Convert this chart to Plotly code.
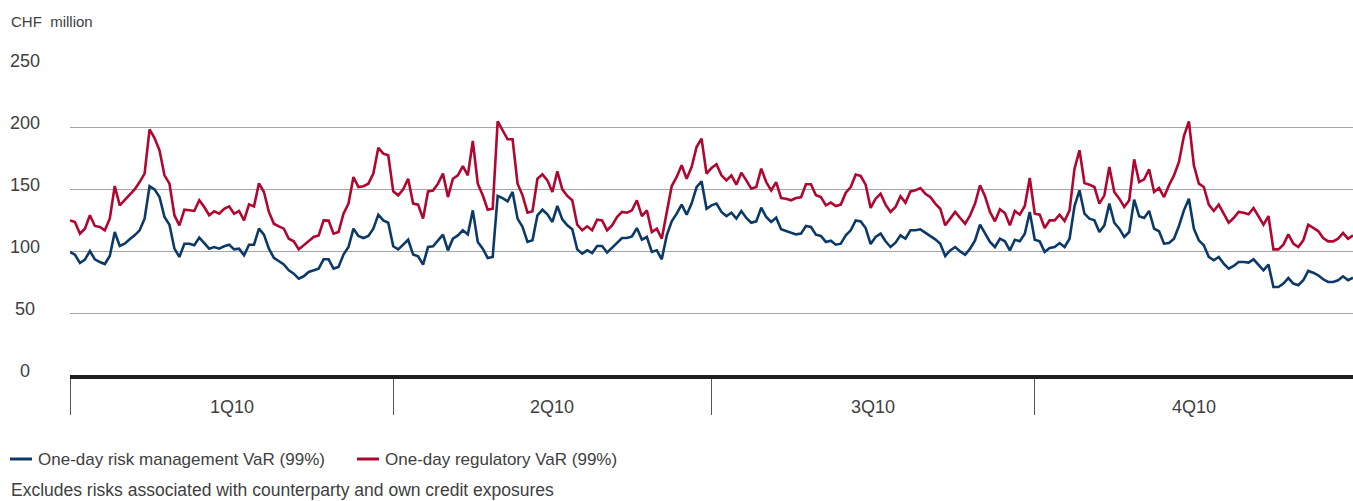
import numpy as np
import plotly.graph_objects as go

# --- data (CHF million, daily) ---
quarter_labels = ["1Q10", "2Q10", "3Q10", "4Q10"]
quarter_days = [65, 64, 65, 65]

risk_mgmt_var = [
    # 1Q10
    99.2, 97, 90.3, 93, 100, 93.3, 91.1, 89.5, 96, 115.3, 104, 105.9, 109.4, 112.6, 116.7,
    126, 152.2, 149.7, 143.5, 127.4, 121.2, 101.9, 95.2, 105.9, 105.9, 104.6, 110.8, 105.9,
    101.9, 103.2, 101.9, 103.8, 105.1, 101.3, 101.9, 96.5, 105.1, 105.1, 118, 113.2, 101.9,
    94.4, 91.7,
    89.2, 84.4, 81.7, 77.7, 79.6, 83.1, 84.4, 85.8, 93.3, 93.3, 85.8, 87.1, 97.1, 103.2,
    118, 112.1, 110.5, 112.1, 118, 129.3, 124.7, 122.8,
    # 2Q10
    103.8, 101.3, 105.1, 109.1, 97.1, 95.7, 89, 103.2, 103.8, 108.6, 113.2, 100.5, 109.9,
    112.6, 116.7, 113.4, 132.8, 107.3, 101.9, 94.4,
    95.2, 144.4, 142.7, 140.1, 147.6, 126.1, 119.4, 107.3, 108.6, 128.8, 133.3, 129.6,
    123.4, 136.3, 125.5, 120.7, 117.5, 101.3, 97.8, 100.5, 98.4, 104, 104, 98.7, 102.4,
    106.7, 110.5, 110.5, 111.8, 118.5, 109.1, 111.3, 99.2, 100.5, 93.3, 112.6, 124, 130.1,
    137.4, 129.3, 138.2, 151.6,
    # 3Q10
    156.2, 134.1, 136.8, 138.2, 131.5, 128.2, 130.9, 126.1, 132.3, 126.6, 122.8, 123.9,
    134.9, 127.4, 123.4, 126.9, 117.5, 116.1, 114.8, 113.4, 114, 120.2, 119.4, 113.2, 112.1,
    107.3, 108.3, 105.1, 105.9, 112.6, 116.7, 124.7, 123.9, 118.5, 105.6, 111.3, 114, 107.8,
    103.2, 106.7, 112.6, 109.9,
    116.7, 116.7, 117.5, 114.8, 112.6, 109.4, 105.9, 96, 100.5, 103.2, 99.7, 97, 101.9,
    108.6, 121.2, 114.8, 107.3, 103.2, 109.9, 107.8, 100.5, 109.1, 107.8, 113.9, 131.5,
    # 4Q10
    109.1, 107.8, 99.2, 102.4, 103.2, 106.4, 103.2, 109.9, 136.3, 148.9, 130.1, 126.1,
    124.7, 115.3, 120.7, 138.2, 122.8,
    118, 111.3, 115.3, 141.4, 128, 126.6, 132.3, 118, 115.9, 105.9, 106.5, 109.9, 120.2,
    132.8, 142.2, 118, 108.6, 104.6, 95.2, 92.5, 95.2, 89.8, 85.8, 87.9, 91.1, 91.1, 90.6,
    93.3, 89, 84.4, 89, 71, 71, 73.7, 78.2, 73.7, 72.4, 76.4, 83.9, 82.5, 80.4, 77.2, 75,
    75, 76.4, 79.6, 76.4, 78.5,
]

regulatory_var = [
    # 1Q10
    124.7, 123.4, 114, 118, 128.8, 120.2, 119.4, 116.7, 126, 152.4, 136.8, 140.9, 144.9,
    149.7, 155.6, 162.4, 198.1, 191.1, 181.2, 161, 154.3, 128.8, 120.7, 133.3, 132.8, 132.3,
    140.9, 135.5, 128.8, 132, 130.1, 134.1, 136, 130.1, 132.3, 124.7, 137.6, 136, 154.6,
    147.6, 131.5, 122, 119.9,
    118, 109.9, 107.8, 101.3, 104.6, 108.6, 111.3, 112.6, 124.7, 124.5, 114, 115.3, 130.1,
    138.2, 159.7, 151.6, 152.2, 154.3, 162.4, 183.3, 178.5, 177.2,
    # 2Q10
    148.1, 144.9, 149.7, 158.3, 138.2, 137.4, 126.1, 148.1, 148.7, 154.3, 162.4, 143.5,
    158.3, 161, 168.5, 161, 188.7, 154.3, 144.9, 133.3,
    134.1, 204.6, 197.3, 190.1, 190.1, 154.3, 144.9, 130.9, 132, 158.3, 161.8, 157, 147.6,
    164.2, 149.7, 144.4, 140.9, 121.2, 116.7, 119.9, 116.7, 125.3, 124.7, 116.7, 120.7,
    127.4, 131.5, 130.9, 132.8, 140.9, 128.2, 132.8, 115.3, 118, 109.9, 132.8, 152.4, 159.7,
    169.1, 158.3, 167.7, 183.9,
    # 3Q10
    190.6, 162.4, 166.9, 169.9, 161, 157, 161, 153.5, 163.2, 157, 150.3, 151.6, 166.4,
    155.6, 148.9, 155.6, 142.7, 142.2, 140.9, 142.7, 143.3, 153.8, 153.8, 144.9, 143.5,
    136.8, 139, 136.3, 137.4, 147, 151.6, 161.6, 160.5, 153.5, 134.7, 142.2, 146.2, 137.4,
    131.5, 135.5, 144.1, 139,
    148.1, 148.9, 150.8, 146.2, 143.5, 138.2, 134.1, 120.7, 126.1, 131.5, 126.6, 122, 128.8,
    138.2, 153, 144.1, 131.5, 123.9, 133.6, 130.6, 120.7, 132.3, 129.3, 136.3, 158.9,
    # 4Q10
    130.1, 129.3, 118.5, 124.7, 124.7, 129.3, 124.2, 132.8, 166.4, 181.2, 154.8, 153.5,
    151.6, 138.2, 144.9, 167.7, 147.6,
    142.2, 135.5, 140.9, 173.9, 155.6, 157.8, 165.9, 147.6, 150.8, 143.5, 153, 161, 171.8,
    192.7, 204.6, 169.1, 154.3, 151.6, 137.4, 132.3, 137.4, 130.6, 122.8, 126.6, 131.5,
    130.9, 129.6, 134.7, 127.4, 121.2, 128.2, 101.3, 101.3, 105.1, 113.4, 105.9, 103.2,
    108.6, 121.2, 118.8, 116.1, 110.5, 107.8, 107.8, 109.9, 114.5, 109.9, 112.6,
]

y_ticks = [0, 50, 100, 150, 200, 250]

# --- styling ---
BLUE = "#0c3a68"
RED = "#b0062f"
TEXT = "#404040"
FONT = "Liberation Sans, Arial, sans-serif"

W, H = 1353, 501
PLOT_L, PLOT_R, PLOT_T, PLOT_B = 70, 1353, 65, 375


def px_x(px):
    return (px - PLOT_L) / (PLOT_R - PLOT_L)


def px_y(py):
    return (PLOT_B - py) / (PLOT_B - PLOT_T)


days = np.arange(len(regulatory_var))
bounds = np.concatenate([[0], np.cumsum(quarter_days)])
bounds[-1] = len(days) - 1

fig = go.Figure()
fig.add_trace(go.Scatter(x=days, y=risk_mgmt_var, mode="lines",
                         line=dict(color=BLUE, width=2.6), name="One-day risk management VaR (99%)"))
fig.add_trace(go.Scatter(x=days, y=regulatory_var, mode="lines",
                         line=dict(color=RED, width=2.6), name="One-day regulatory VaR (99%)"))

annotations = []
# y tick labels (centred in the left margin)
for v in y_ticks:
    annotations.append(dict(x=px_x(25), xref="paper", y=v, yref="y", text=str(v),
                            showarrow=False, xanchor="center", yanchor="middle", yshift=4,
                            font=dict(size=18, color=TEXT)))
# quarter labels
for i, lab in enumerate(quarter_labels):
    annotations.append(dict(x=(bounds[i] + bounds[i + 1]) / 2, xref="x", y=px_y(407), yref="paper",
                            text=lab, showarrow=False, xanchor="center", yanchor="middle",
                            font=dict(size=18, color=TEXT)))
annotations.append(dict(x=px_x(9), xref="paper", y=px_y(21), yref="paper", text="CHF  million",
                        showarrow=False, xanchor="left", yanchor="middle",
                        font=dict(size=15, color=TEXT)))

# legend (manual) and footnote
shapes = []
legend_items = [(10, BLUE, "One-day risk management VaR (99%)"),
                (357, RED, "One-day regulatory VaR (99%)")]
for x0, col, lab in legend_items:
    shapes.append(dict(type="line", xref="paper", yref="paper", x0=px_x(x0), x1=px_x(x0 + 22),
                       y0=px_y(459), y1=px_y(459), line=dict(color=col, width=3)))
    annotations.append(dict(x=px_x(x0 + 26), xref="paper", y=px_y(459), yref="paper", text=lab,
                            showarrow=False, xanchor="left", yanchor="middle",
                            font=dict(size=17, color=TEXT)))
annotations.append(dict(x=px_x(9), xref="paper", y=px_y(490), yref="paper",
                        text="Excludes risks associated with counterparty and own credit exposures",
                        showarrow=False, xanchor="left", yanchor="middle",
                        font=dict(size=17.5, color=TEXT)))

fig.update_layout(
    width=W, height=H,
    margin=dict(l=PLOT_L, r=W - PLOT_R, t=PLOT_T, b=H - PLOT_B),
    paper_bgcolor="white", plot_bgcolor="white",
    showlegend=False,
    font=dict(family=FONT, color=TEXT),
    annotations=annotations,
    shapes=shapes,
    xaxis=dict(range=[0, len(days) - 1], showgrid=False, zeroline=False,
               showline=True, linecolor="#1e1e1e", linewidth=4,
               tickmode="array", tickvals=bounds[:-1].tolist(), ticks="outside",
               ticklen=36, tickwidth=1, tickcolor="#555555", showticklabels=False),
    yaxis=dict(range=[0, 250], tickvals=y_ticks, showticklabels=False,
               showgrid=True, gridcolor="#aaa5a5", gridwidth=1, zeroline=False),
)

fig.write_html("out.html", config={"displayModeBar": False},
               post_script="document.body.style.margin='0';document.body.style.overflow='hidden';")
